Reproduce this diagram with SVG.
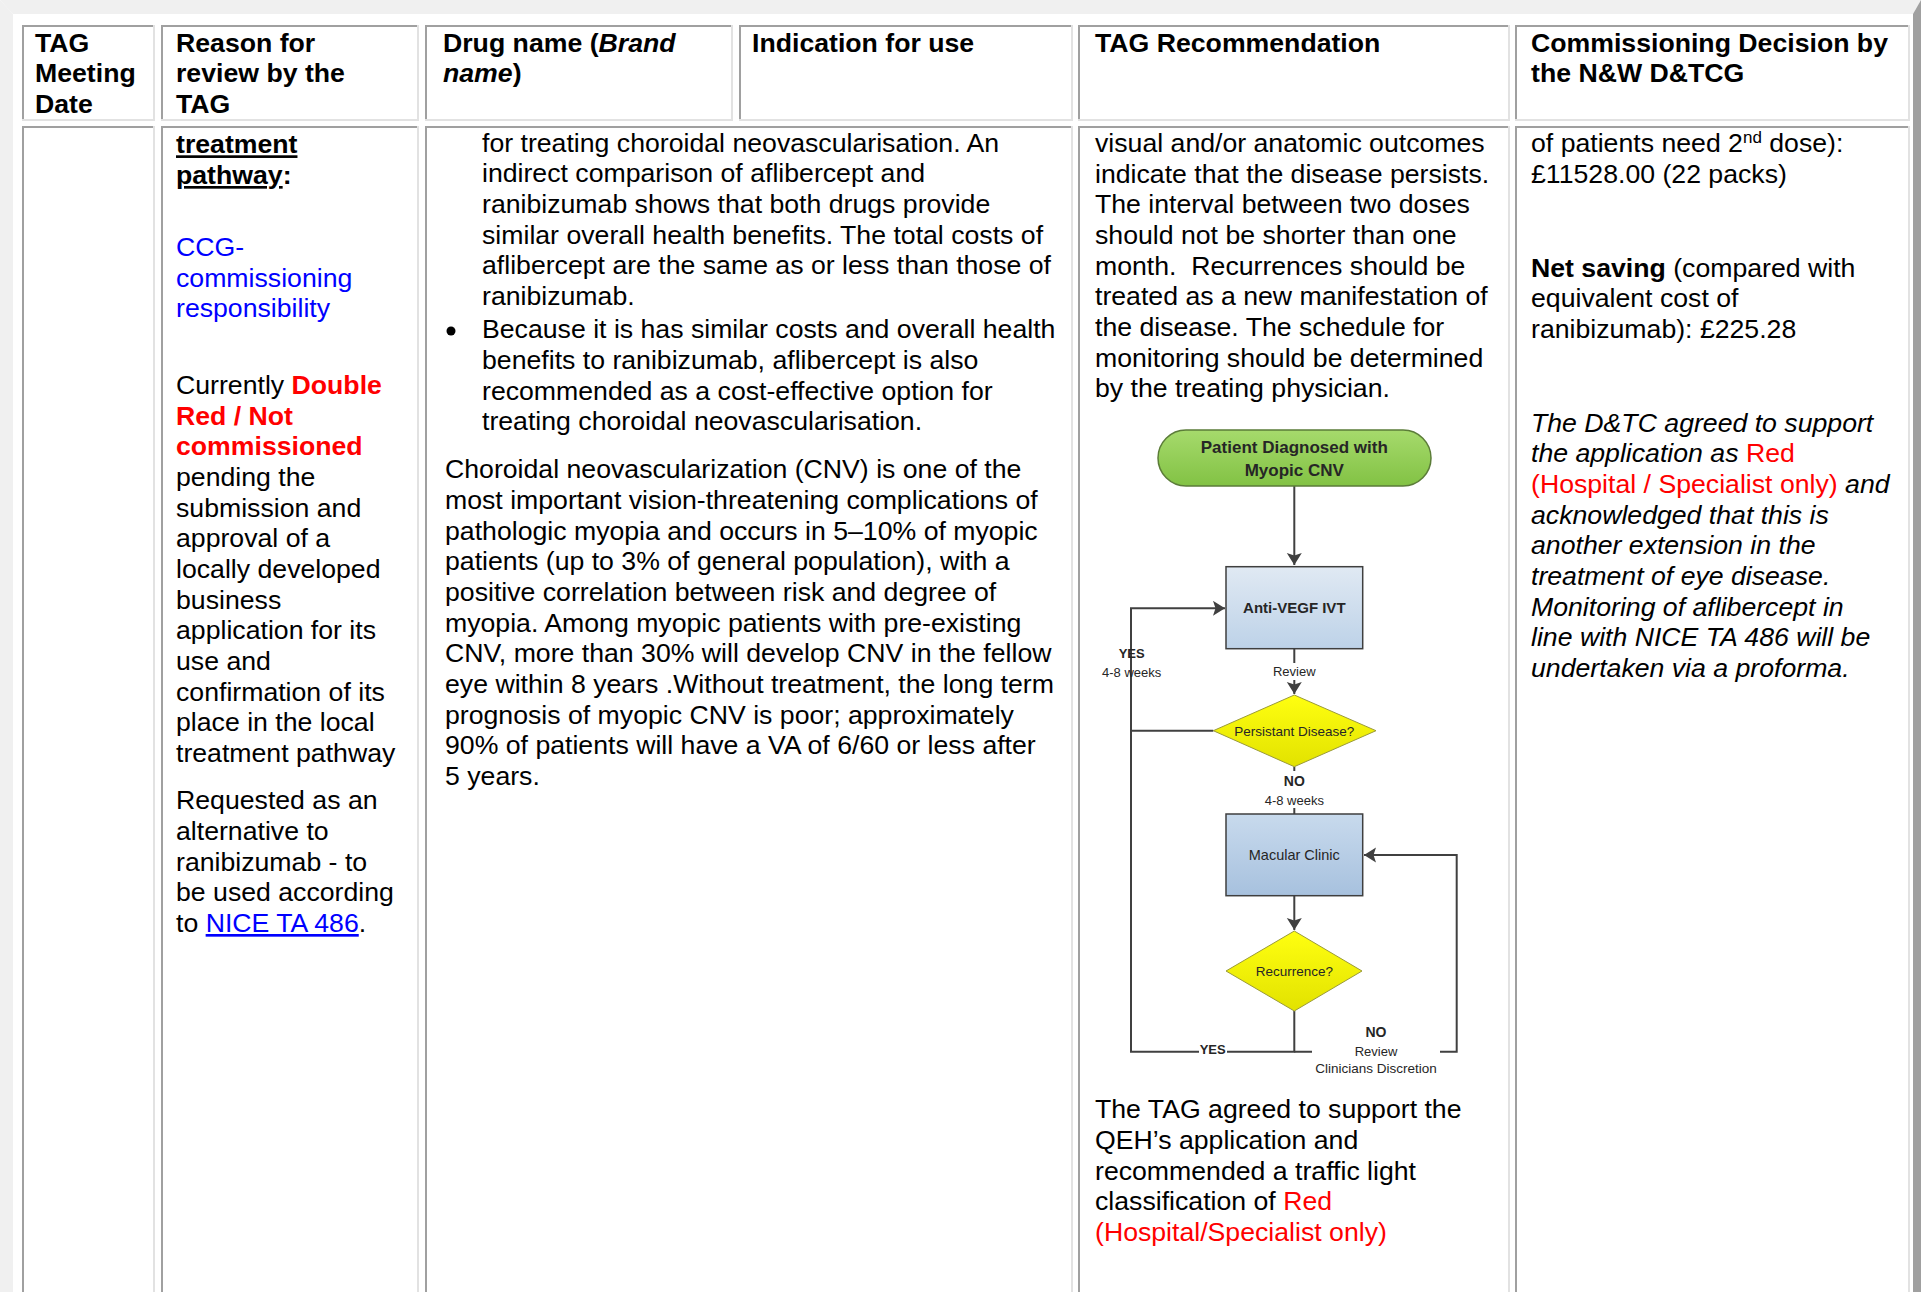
<svg xmlns="http://www.w3.org/2000/svg" width="1921" height="1292" viewBox="0 0 1921 1292">
<defs>
<style>
.t{font-family:"Liberation Sans",Arial,Helvetica,sans-serif;font-size:26.67px;fill:#000}
.b{font-weight:bold}
.i{font-style:italic}
.n{font-style:normal}
.red{fill:#ff0000}
.blue{fill:#0000ff}
.u{text-decoration:underline}
.dk{fill:#a0a0a0}
.lt{fill:#e2e2e2}
.fc{font-family:"Liberation Sans",Arial,Helvetica,sans-serif;fill:#262626;text-anchor:middle}
.fs{font-size:13px}
.ln{stroke:#404040;stroke-width:2;fill:none}
.bg{fill:#ffffff}
</style>
<linearGradient id="gGreen" x1="0" y1="0" x2="0" y2="1"><stop offset="0" stop-color="#a6da6c"/><stop offset="1" stop-color="#82c244"/></linearGradient>
<linearGradient id="gBlueA" x1="0" y1="0" x2="0" y2="1"><stop offset="0" stop-color="#e0e9f3"/><stop offset="1" stop-color="#bdd2e8"/></linearGradient>
<linearGradient id="gBlueM" x1="0" y1="0" x2="0" y2="1"><stop offset="0" stop-color="#c8daed"/><stop offset="1" stop-color="#a7c1de"/></linearGradient>
<linearGradient id="gYel" x1="0" y1="0" x2="0" y2="1"><stop offset="0" stop-color="#ffff10"/><stop offset="1" stop-color="#e2e200"/></linearGradient>
<marker id="ah" markerWidth="14" markerHeight="16" refX="12" refY="7.5" orient="auto" markerUnits="userSpaceOnUse"><path d="M0,0 L12,7.5 L0,15 L2.5,7.5 Z" fill="#404040"/></marker>
</defs>

<rect x="0" y="0" width="1921" height="1292" fill="#ffffff"/>
<!-- outer table border (outset) -->
<polygon points="0,0 1921,0 1913,14 13,14" fill="#f0f0f0"/>
<polygon points="0,0 13,14 13,1292 0,1292" fill="#f0f0f0"/>
<polygon points="1921,0 1921,1292 1913,1292 1913,14" fill="#a0a0a0"/>

<!-- header row cells -->
<g id="cell-h1">
<rect class="dk" x="22" y="25" width="2" height="96"/><rect class="dk" x="22" y="25" width="133" height="2"/>
<rect class="lt" x="153" y="25" width="2" height="96"/><rect class="lt" x="22" y="119" width="133" height="2"/>
<text class="t b" x="35" y="51.5">TAG</text>
<text class="t b" x="35" y="82.2">Meeting</text>
<text class="t b" x="35" y="112.8">Date</text>
</g>
<g id="cell-h2">
<rect class="dk" x="161" y="25" width="2" height="96"/><rect class="dk" x="161" y="25" width="258" height="2"/>
<rect class="lt" x="417" y="25" width="2" height="96"/><rect class="lt" x="161" y="119" width="258" height="2"/>
<text class="t b" x="176" y="51.5">Reason for</text>
<text class="t b" x="176" y="82.2">review by the</text>
<text class="t b" x="176" y="112.8">TAG</text>
</g>
<g id="cell-h3">
<rect class="dk" x="425" y="25" width="2" height="96"/><rect class="dk" x="425" y="25" width="308" height="2"/>
<rect class="lt" x="731" y="25" width="2" height="96"/><rect class="lt" x="425" y="119" width="308" height="2"/>
<text class="t b" x="443" y="51.5">Drug name (<tspan class="i">Brand</tspan></text>
<text class="t b" x="443" y="82.2"><tspan class="i">name</tspan>)</text>
</g>
<g id="cell-h4">
<rect class="dk" x="739" y="25" width="2" height="96"/><rect class="dk" x="739" y="25" width="334" height="2"/>
<rect class="lt" x="1071" y="25" width="2" height="96"/><rect class="lt" x="739" y="119" width="334" height="2"/>
<text class="t b" x="752" y="51.5">Indication for use</text>
</g>
<g id="cell-h5">
<rect class="dk" x="1078" y="25" width="2" height="96"/><rect class="dk" x="1078" y="25" width="432" height="2"/>
<rect class="lt" x="1508" y="25" width="2" height="96"/><rect class="lt" x="1078" y="119" width="432" height="2"/>
<text class="t b" x="1095" y="51.5">TAG Recommendation</text>
</g>
<g id="cell-h6">
<rect class="dk" x="1515" y="25" width="2" height="96"/><rect class="dk" x="1515" y="25" width="395" height="2"/>
<rect class="lt" x="1908" y="25" width="2" height="96"/><rect class="lt" x="1515" y="119" width="395" height="2"/>
<text class="t b" x="1531" y="51.5">Commissioning Decision by</text>
<text class="t b" x="1531" y="82.2">the N&amp;W D&amp;TCG</text>
</g>

<!-- body row cells -->
<g id="cell-r1">
<rect class="dk" x="22" y="126" width="2" height="1166"/><rect class="dk" x="22" y="126" width="133" height="2"/>
<rect class="lt" x="153" y="126" width="2" height="1166"/>
</g>

<g id="cell-r2">
<rect class="dk" x="161" y="126" width="2" height="1166"/><rect class="dk" x="161" y="126" width="258" height="2"/>
<rect class="lt" x="417" y="126" width="2" height="1166"/>
<text class="t b" x="176" y="153.3"><tspan class="u">treatment</tspan></text>
<text class="t b" x="176" y="184"><tspan class="u">pathway</tspan>:</text>
<text class="t blue" x="176" y="256">CCG-</text>
<text class="t blue" x="176" y="286.7">commissioning</text>
<text class="t blue" x="176" y="317.3">responsibility</text>
<text class="t" x="176" y="394">Currently <tspan class="red b">Double</tspan></text>
<text class="t red b" x="176" y="424.7">Red / Not</text>
<text class="t red b" x="176" y="455.3">commissioned</text>
<text class="t" x="176" y="486">pending the</text>
<text class="t" x="176" y="516.7">submission and</text>
<text class="t" x="176" y="547.3">approval of a</text>
<text class="t" x="176" y="578">locally developed</text>
<text class="t" x="176" y="608.7">business</text>
<text class="t" x="176" y="639.3">application for its</text>
<text class="t" x="176" y="670">use and</text>
<text class="t" x="176" y="700.7">confirmation of its</text>
<text class="t" x="176" y="731.3">place in the local</text>
<text class="t" x="176" y="762">treatment pathway</text>
<text class="t" x="176" y="809.3">Requested as an</text>
<text class="t" x="176" y="840">alternative to</text>
<text class="t" x="176" y="870.7">ranibizumab - to</text>
<text class="t" x="176" y="901.3">be used according</text>
<text class="t" x="176" y="932">to <tspan class="blue u">NICE TA 486</tspan>.</text>
</g>

<g id="cell-r3">
<rect class="dk" x="425" y="126" width="2" height="1166"/><rect class="dk" x="425" y="126" width="648" height="2"/>
<rect class="lt" x="1071" y="126" width="2" height="1166"/>
<text class="t" x="482" y="151.7">for treating choroidal neovascularisation. An</text>
<text class="t" x="482" y="182.3">indirect comparison of aflibercept and</text>
<text class="t" x="482" y="213">ranibizumab shows that both drugs provide</text>
<text class="t" x="482" y="243.7">similar overall health benefits. The total costs of</text>
<text class="t" x="482" y="274.3">aflibercept are the same as or less than those of</text>
<text class="t" x="482" y="305">ranibizumab.</text>
<circle cx="451" cy="331" r="4.5" fill="#000"/>
<text class="t" x="482" y="338.3">Because it is has similar costs and overall health</text>
<text class="t" x="482" y="369">benefits to ranibizumab, aflibercept is also</text>
<text class="t" x="482" y="399.7">recommended as a cost-effective option for</text>
<text class="t" x="482" y="430.3">treating choroidal neovascularisation.</text>
<text class="t" x="445" y="478.3">Choroidal neovascularization (CNV) is one of the</text>
<text class="t" x="445" y="509">most important vision-threatening complications of</text>
<text class="t" x="445" y="539.7">pathologic myopia and occurs in 5–10% of myopic</text>
<text class="t" x="445" y="570.3">patients (up to 3% of general population), with a</text>
<text class="t" x="445" y="601">positive correlation between risk and degree of</text>
<text class="t" x="445" y="631.7">myopia. Among myopic patients with pre-existing</text>
<text class="t" x="445" y="662.3">CNV, more than 30% will develop CNV in the fellow</text>
<text class="t" x="445" y="693">eye within 8 years .Without treatment, the long term</text>
<text class="t" x="445" y="723.7">prognosis of myopic CNV is poor; approximately</text>
<text class="t" x="445" y="754.3">90% of patients will have a VA of 6/60 or less after</text>
<text class="t" x="445" y="785">5 years.</text>
</g>

<g id="cell-r5">
<rect class="dk" x="1078" y="126" width="2" height="1166"/><rect class="dk" x="1078" y="126" width="432" height="2"/>
<rect class="lt" x="1508" y="126" width="2" height="1166"/>
<text class="t" x="1095" y="152">visual and/or anatomic outcomes</text>
<text class="t" x="1095" y="182.7">indicate that the disease persists.</text>
<text class="t" x="1095" y="213.3">The interval between two doses</text>
<text class="t" x="1095" y="244">should not be shorter than one</text>
<text class="t" x="1095" y="274.7">month.&#160; Recurrences should be</text>
<text class="t" x="1095" y="305.3">treated as a new manifestation of</text>
<text class="t" x="1095" y="336">the disease. The schedule for</text>
<text class="t" x="1095" y="366.7">monitoring should be determined</text>
<text class="t" x="1095" y="397.3">by the treating physician.</text>
<text class="t" x="1095" y="1118.3">The TAG agreed to support the</text>
<text class="t" x="1095" y="1149">QEH’s application and</text>
<text class="t" x="1095" y="1179.7">recommended a traffic light</text>
<text class="t" x="1095" y="1210.3">classification of <tspan class="red">Red</tspan></text>
<text class="t red" x="1095" y="1241">(Hospital/Specialist only)</text>
</g>

<g id="cell-r6">
<rect class="dk" x="1515" y="126" width="2" height="1166"/><rect class="dk" x="1515" y="126" width="395" height="2"/>
<rect class="lt" x="1908" y="126" width="2" height="1166"/>
<text class="t" x="1531" y="152">of patients need 2<tspan font-size="17" dy="-9">nd</tspan><tspan dy="9"> dose):</tspan></text>
<text class="t" x="1531" y="182.7">£11528.00 (22 packs)</text>
<text class="t" x="1531" y="276.7"><tspan class="b">Net saving</tspan> (compared with</text>
<text class="t" x="1531" y="307.3">equivalent cost of</text>
<text class="t" x="1531" y="338">ranibizumab): £225.28</text>
<text class="t i" x="1531" y="431.7">The D&amp;TC agreed to support</text>
<text class="t i" x="1531" y="462.3">the application as <tspan class="red n">Red</tspan></text>
<text class="t i" x="1531" y="493"><tspan class="red n">(Hospital / Specialist only)</tspan> and</text>
<text class="t i" x="1531" y="523.7">acknowledged that this is</text>
<text class="t i" x="1531" y="554.3">another extension in the</text>
<text class="t i" x="1531" y="585">treatment of eye disease.</text>
<text class="t i" x="1531" y="615.7">Monitoring of aflibercept in</text>
<text class="t i" x="1531" y="646.3">line with NICE TA 486 will be</text>
<text class="t i" x="1531" y="677">undertaken via a proforma.</text>
</g>

<!-- flowchart connectors -->
<g id="connectors">
<path class="ln" d="M1294.3,486 V565" marker-end="url(#ah)"/>
<path class="ln" d="M1294.3,648.7 V694" marker-end="url(#ah)"/>
<path class="ln" d="M1213.3,730.7 H1131 V608.3 H1225" marker-end="url(#ah)"/>
<path class="ln" d="M1294.3,766.7 V814"/>
<path class="ln" d="M1294.3,895.7 V930" marker-end="url(#ah)"/>
<path class="ln" d="M1294.3,1011 V1051.7 H1131 V730.7"/>
<path class="ln" d="M1294.3,1051.7 H1456.7 V855 H1364" marker-end="url(#ah)"/>
</g>

<!-- flowchart nodes -->
<g id="node-start">
<rect x="1158" y="430" width="273" height="56" rx="28" ry="28" fill="url(#gGreen)" stroke="#5b7c38" stroke-width="1.5"/>
<text class="fc b" x="1294.3" y="453" font-size="17">Patient Diagnosed with</text>
<text class="fc b" x="1294.3" y="475.5" font-size="17">Myopic CNV</text>
</g>
<g id="node-antivegf">
<rect x="1226" y="566.7" width="136.7" height="82" fill="url(#gBlueA)" stroke="#3f3f3f" stroke-width="1.5"/>
<text class="fc b" x="1294.3" y="613" font-size="15" fill="#1a1a1a">Anti-VEGF IVT</text>
</g>
<g id="node-persist">
<polygon points="1294.3,695 1376,730.7 1294.3,766.7 1213.3,730.7" fill="url(#gYel)" stroke="#9a9a3a" stroke-width="1"/>
<text class="fc" x="1294.3" y="735.5" font-size="13.5" fill="#3d3d20">Persistant Disease?</text>
</g>
<g id="node-macular">
<rect x="1226" y="814" width="136.7" height="81.7" fill="url(#gBlueM)" stroke="#3f3f3f" stroke-width="1.5"/>
<text class="fc" x="1294.3" y="859.5" font-size="14.5" fill="#1f2d48">Macular Clinic</text>
</g>
<g id="node-recur">
<polygon points="1294.3,931 1362,971 1294.3,1011 1226,971" fill="url(#gYel)" stroke="#9a9a3a" stroke-width="1"/>
<text class="fc" x="1294.3" y="976" font-size="13.5" fill="#3d3d20">Recurrence?</text>
</g>

<!-- connector labels -->
<g id="labels">
<rect class="bg" x="1268" y="663" width="53" height="17"/>
<text class="fc fs" x="1294.3" y="676" fill="#3b4656">Review</text>
<rect class="bg" x="1262" y="771" width="65" height="37"/>
<text class="fc b" x="1294.3" y="786" font-size="14">NO</text>
<text class="fc fs" x="1294.3" y="805" fill="#404040">4-8 weeks</text>
<text class="fc b" x="1131.7" y="658.3" font-size="13">YES</text>
<text class="fc fs" x="1131.7" y="677.3" fill="#404040">4-8 weeks</text>
<rect class="bg" x="1199" y="1044" width="28" height="14"/>
<text class="fc b" x="1212.7" y="1054" font-size="13">YES</text>
<rect class="bg" x="1312" y="1022" width="128" height="56"/>
<text class="fc b" x="1376" y="1036.7" font-size="14">NO</text>
<text class="fc fs" x="1376" y="1056" fill="#3b4656">Review</text>
<text class="fc" x="1376" y="1073.3" font-size="13.5" fill="#3b4656">Clinicians Discretion</text>
</g>
</svg>
